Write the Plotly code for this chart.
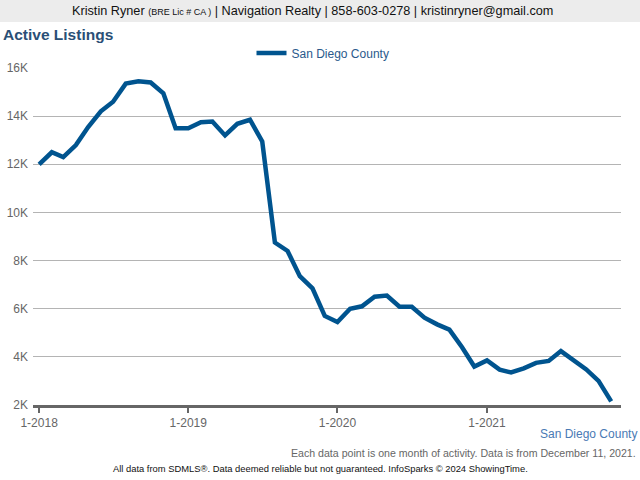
import plotly.graph_objects as go
import pandas as pd

# monthly points, Jan 2018 .. Nov 2021
months = pd.date_range("2018-01-01", "2021-11-01", freq="MS").strftime("%Y-%m-%d").tolist()
active_listings = [
    12000, 12500, 12300, 12800, 13550, 14200, 14600, 15350, 15450, 15400, 14950, 13500,
    13500, 13750, 13780, 13200, 13680, 13850, 12950, 8750, 8400, 7350, 6850, 5700,
    5450, 6000, 6100, 6500, 6550, 6080, 6080, 5630, 5350, 5130, 4400, 3600,
    3850, 3470, 3350, 3520, 3750, 3830, 4240, 3860, 3480, 3000, 2150,
]
y_ticks = [2000, 4000, 6000, 8000, 10000, 12000, 14000, 16000]
y_labels = ["2K", "4K", "6K", "8K", "10K", "12K", "14K", "16K"]
x_ticks = ["2018-01-01", "2019-01-01", "2020-01-01", "2021-01-01"]
x_labels = ["1-2018", "1-2019", "1-2020", "1-2021"]

fig = go.Figure()
fig.add_trace(go.Scatter(x=months, y=active_listings, mode="lines", name="San Diego County",
                         line=dict(color="#00548f", width=4.5)))

fig.update_layout(
    width=640, height=480,
    margin=dict(l=33, r=19, t=68, b=75, autoexpand=False),
    paper_bgcolor="white", plot_bgcolor="white",
    font=dict(family="Liberation Sans, Arial", color="#666666", size=12),
    showlegend=True,
    legend=dict(orientation="h", x=0.5 - 4 / 588, xanchor="center", yref="container",
                y=1 - 53 / 480, yanchor="middle",
                font=dict(color="#2a5a8c", size=12), itemwidth=30),
)

# header band + texts, placed relative to the plot area (588 x 337 px)
fig.add_shape(type="rect", xref="paper", yref="paper", x0=-0.1, x1=1.1,
              y0=(405 - 22) / 337, y1=(405 + 2) / 337, fillcolor="#ececec",
              line=dict(width=0), layer="below")

fig.add_annotation(text="Kristin Ryner <span style='font-size:9px'>(BRE Lic # CA )</span> | Navigation Realty | 858-603-0278 | kristinryner@gmail.com",
                   xref="paper", yref="paper", x=(312 - 33) / 588, y=(405 - 11) / 337,
                   xanchor="center", yanchor="middle",
                   showarrow=False, font=dict(color="#111111", size=12.7))
fig.add_annotation(text="<b>Active Listings</b>", xref="paper", yref="paper",
                   x=-32 / 588, y=(405 - 34) / 337, xanchor="left", yanchor="middle",
                   showarrow=False, font=dict(color="#2a4f76", size=15.5))
fig.add_annotation(text="San Diego County", xref="paper", yref="paper",
                   x=(639 - 33) / 588, y=(405 - 434) / 337, xanchor="right", yanchor="middle",
                   showarrow=False, font=dict(color="#4a7ab4", size=12))
fig.add_annotation(text="Each data point is one month of activity. Data is from December 11, 2021.",
                   xref="paper", yref="paper", x=(638 - 33) / 588, y=(405 - 453) / 337,
                   xanchor="right", yanchor="middle", showarrow=False,
                   font=dict(color="#666666", size=10.6))
fig.add_annotation(text="All data from SDMLS®. Data deemed reliable but not guaranteed. InfoSparks © 2024 ShowingTime.",
                   xref="paper", yref="paper", x=(320 - 33) / 588, y=(405 - 469) / 337,
                   xanchor="center", yanchor="middle", showarrow=False,
                   font=dict(color="#111111", size=9.4))

fig.update_xaxes(type="date", range=["2017-12-17", "2021-11-25"], automargin=False,
                 tickvals=x_ticks, ticktext=x_labels, ticks="outside", ticklen=5,
                 tickwidth=2, tickcolor="#666666", showgrid=False,
                 showline=True, linecolor="#666666", linewidth=3,
                 tickfont=dict(color="#666666", size=12), zeroline=False)
fig.update_yaxes(range=[2000, 16000], tickvals=y_ticks, ticktext=y_labels, automargin=False,
                 showgrid=True, gridcolor="#b4b4b4", gridwidth=1, zeroline=False,
                 ticks="", ticklabelstandoff=4,
                 tickfont=dict(color="#666666", size=12))

# drop the default page margin so the figure sits at the window's corner
fig.write_html("out.html", config={"displayModeBar": False},
               post_script="document.body.style.margin='0';")
